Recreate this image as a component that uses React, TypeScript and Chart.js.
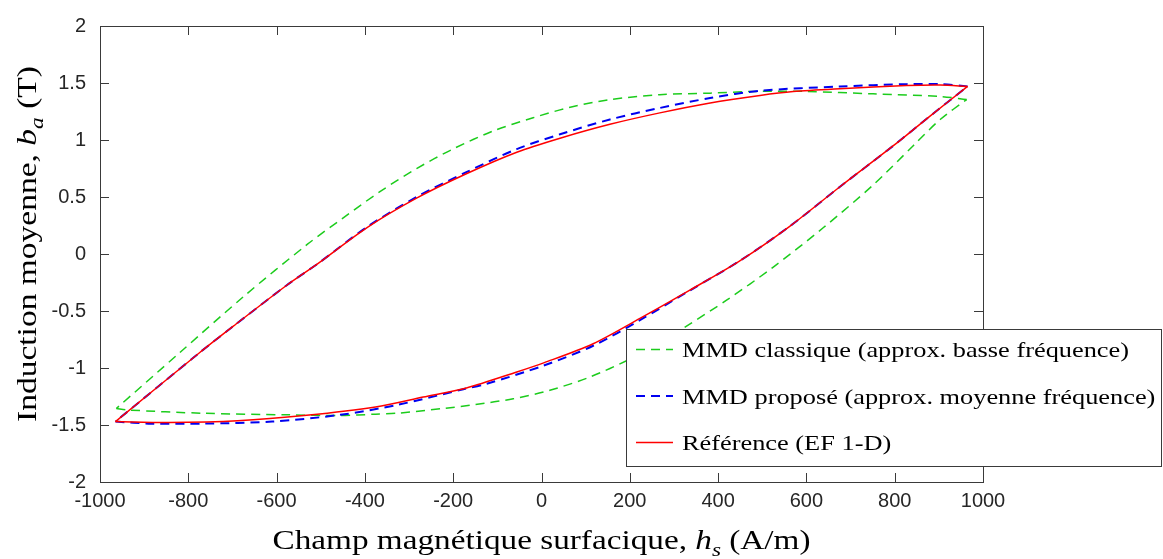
import { useEffect, useRef } from 'react';
import { Chart, registerables } from 'chart.js';

Chart.register(...registerables);

// ---- Data (h_s in A/m, b_a in T) ----
const xTicks = [-1000, -800, -600, -400, -200, 0, 200, 400, 600, 800, 1000];
const yTicks = [-2, -1.5, -1, -0.5, 0, 0.5, 1, 1.5, 2];

const seriesLabels = [
  'MMD classique (approx. basse fréquence)',
  'MMD proposé (approx. moyenne fréquence)',
  'Référence (EF 1-D)',
];

// MMD classique (green)
const classicUpperH = [963, 903, 751, 600, 480, 382, 268, 155, 65, -19, -109, -200, -283, -366, -449, -530, -675, -819, -963];
const classicUpperB = [1.355, 1.382, 1.405, 1.426, 1.426, 1.411, 1.397, 1.354, 1.287, 1.195, 1.08, 0.922, 0.749, 0.547, 0.317, 0.086, -0.374, -0.864, -1.355];
const classicLowerH = [-963, -938, -766, -571, -456, -376, -328, -220, -150, -64, 19, 109, 200, 283, 325, 420, 525, 638, 751, 842, 903, 963];
const classicLowerB = [-1.355, -1.368, -1.397, -1.411, -1.417, -1.405, -1.397, -1.354, -1.32, -1.27, -1.195, -1.08, -0.922, -0.749, -0.642, -0.403, -0.115, 0.23, 0.605, 0.95, 1.18, 1.355];

// MMD proposé (blue)
const proposedUpperH = [965, 903, 827, 676, 495, 382, 268, 155, 42, -56, -169, -283, -396, -505, -577, -698, -774, -965];
const proposedUpperB = [1.47, 1.49, 1.49, 1.469, 1.432, 1.368, 1.281, 1.18, 1.05, 0.92, 0.72, 0.5, 0.235, -0.08, -0.274, -0.633, -0.864, -1.47];
const proposedLowerH = [-965, -883, -766, -610, -456, -328, -177, -124, 5, 117, 223, 336, 450, 563, 676, 797, 880, 965];
const proposedLowerB = [-1.47, -1.488, -1.488, -1.47, -1.411, -1.325, -1.186, -1.138, -0.979, -0.805, -0.58, -0.32, -0.058, 0.245, 0.59, 0.95, 1.21, 1.47];

// Référence EF 1-D (red)
const refUpperH = [965, 903, 827, 676, 570, 495, 382, 268, 155, 42, -56, -169, -283, -396, -505, -577, -698, -774, -965];
const refUpperB = [1.47, 1.483, 1.478, 1.45, 1.425, 1.391, 1.325, 1.238, 1.138, 1.016, 0.893, 0.706, 0.49, 0.23, -0.08, -0.274, -0.633, -0.864, -1.47];
const refLowerH = [-965, -844, -688, -532, -376, -268, -170, -56, 5, 117, 223, 336, 450, 563, 676, 797, 880, 965];
const refLowerB = [-1.47, -1.478, -1.463, -1.415, -1.342, -1.255, -1.175, -1.035, -0.955, -0.787, -0.565, -0.317, -0.058, 0.245, 0.59, 0.95, 1.21, 1.47];

// ---- Styles ----
const GREEN = '#1ccc1c';
const BLUE = '#0000f0';
const RED = '#ff0000';
const AXIS = '#3a3a3a';
const TEXT = '#262626';
const SERIF = '"Liberation Serif", "Times New Roman", serif';
const SANS = '"Liberation Sans", Arial, Helvetica, sans-serif';

const pts = (hs: number[], bs: number[]) => hs.map((h, i) => ({ x: h, y: bs[i] }));

type Seg = { t: string; it?: boolean; sub?: boolean };

function segWidth(ctx: CanvasRenderingContext2D, s: Seg, size: number) {
  ctx.font = `${s.it ? 'italic ' : ''}${s.sub ? size * 0.7 : size}px ${SERIF}`;
  return ctx.measureText(s.t).width;
}

function drawSegs(ctx: CanvasRenderingContext2D, segs: Seg[], size: number, targetW: number | null, align: 'center' | 'left', sxOverride?: number) {
  let w = 0;
  segs.forEach((s) => (w += segWidth(ctx, s, size)));
  const sx = sxOverride ?? (targetW ? targetW / w : 1);
  ctx.save();
  ctx.scale(sx, 1);
  let cx = align === 'center' ? -w / 2 : 0;
  ctx.textBaseline = 'alphabetic';
  ctx.textAlign = 'left';
  segs.forEach((s) => {
    const sw = segWidth(ctx, s, size);
    ctx.fillText(s.t, cx, s.sub ? size * 0.25 : 0);
    cx += sw;
  });
  ctx.restore();
}

const decorPlugin = {
  id: 'decor',
  afterDraw(chart: any) {
    const ctx: CanvasRenderingContext2D = chart.ctx;
    const { left, right, top, bottom } = chart.chartArea;
    const xs = chart.scales.x;
    const ys = chart.scales.y;
    ctx.save();
    // frame
    ctx.strokeStyle = AXIS;
    ctx.lineWidth = 1;
    ctx.setLineDash([]);
    ctx.strokeRect(Math.round(left) + 0.5, Math.round(top) + 0.5, Math.round(right - left), Math.round(bottom - top));
    // inward ticks
    const tl = 9;
    ctx.beginPath();
    xTicks.forEach((v) => {
      const px = Math.round(xs.getPixelForValue(v)) + 0.5;
      ctx.moveTo(px, bottom);
      ctx.lineTo(px, bottom - tl);
      ctx.moveTo(px, top);
      ctx.lineTo(px, top + tl);
    });
    yTicks.forEach((v) => {
      const py = Math.round(ys.getPixelForValue(v)) + 0.5;
      ctx.moveTo(left, py);
      ctx.lineTo(left + tl, py);
      ctx.moveTo(right, py);
      ctx.lineTo(right - tl, py);
    });
    ctx.stroke();

    // axis titles
    ctx.fillStyle = '#000';
    ctx.save();
    ctx.translate((left + right) / 2, 549);
    drawSegs(ctx, [
      { t: 'Champ magnétique surfacique, ' },
      { t: 'h', it: true },
      { t: 's', it: true, sub: true },
      { t: ' (A/m)' },
    ], 27, 538, 'center');
    ctx.restore();

    ctx.save();
    ctx.translate(36, 244);
    ctx.rotate(-Math.PI / 2);
    drawSegs(ctx, [
      { t: 'Induction moyenne, ' },
      { t: 'b', it: true },
      { t: 'a', it: true, sub: true },
      { t: ' (T)' },
    ], 27, 356, 'center');
    ctx.restore();

    // legend
    const bx = 626.5, by = 329.5, bw = 535, bh = 137;
    ctx.fillStyle = '#fff';
    ctx.fillRect(bx, by, bw, bh);
    ctx.strokeStyle = AXIS;
    ctx.lineWidth = 1;
    ctx.strokeRect(bx, by, bw, bh);
    const rows = [349.5, 396, 442.5];
    const lsize = 21;
    const w0 = segWidth(ctx, { t: seriesLabels[0] }, lsize);
    const lsx = 447 / w0;
    const dsets = chart.data.datasets;
    for (let i = 0; i < 3; i++) {
      const ds = dsets[i];
      ctx.strokeStyle = ds.borderColor;
      ctx.lineWidth = ds.borderWidth;
      ctx.setLineDash(ds.borderDash || []);
      ctx.beginPath();
      ctx.moveTo(636, rows[i]);
      ctx.lineTo(673, rows[i]);
      ctx.stroke();
      ctx.setLineDash([]);
      ctx.fillStyle = '#000';
      ctx.save();
      ctx.translate(682, rows[i] + 7.5);
      drawSegs(ctx, [{ t: ds.label }], lsize, null, 'left', lsx);
      ctx.restore();
    }
    ctx.restore();
  },
};

export default function App() {
  const ref = useRef<HTMLCanvasElement | null>(null);
  useEffect(() => {
    document.body.style.margin = '0';
    const canvas = ref.current!;
    const common = { showLine: true, pointRadius: 0, pointHoverRadius: 0, fill: false, tension: 0.3 };
    const chart = new Chart(canvas, {
      type: 'scatter',
      data: {
        datasets: [
          { ...common, label: seriesLabels[0], data: pts(classicUpperH, classicUpperB), borderColor: GREEN, borderWidth: 1.5, borderDash: [9, 6], order: 3 },
          { ...common, label: seriesLabels[1], data: pts(proposedUpperH, proposedUpperB), borderColor: BLUE, borderWidth: 2, borderDash: [9, 6], order: 2 },
          { ...common, label: seriesLabels[2], data: pts(refUpperH, refUpperB), borderColor: RED, borderWidth: 1.5, order: 1 },
          { ...common, label: seriesLabels[0] + ' ', data: pts(classicLowerH, classicLowerB), borderColor: GREEN, borderWidth: 1.5, borderDash: [9, 6], order: 3 },
          { ...common, label: seriesLabels[1] + ' ', data: pts(proposedLowerH, proposedLowerB), borderColor: BLUE, borderWidth: 2, borderDash: [9, 6], order: 2 },
          { ...common, label: seriesLabels[2] + ' ', data: pts(refLowerH, refLowerB), borderColor: RED, borderWidth: 1.5, order: 1 },
        ],
      },
      options: {
        animation: false,
        responsive: false,
        devicePixelRatio: 1,
        layout: { padding: { top: 19, right: 180, bottom: 0, left: 0 } },
        plugins: { legend: { display: false }, tooltip: { enabled: false }, title: { display: false } },
        events: [],
        scales: {
          x: {
            type: 'linear',
            min: -1000,
            max: 1000,
            afterFit: (s: any) => { s.height = 77; },
            afterBuildTicks: (s: any) => { s.ticks = xTicks.map((v) => ({ value: v })); },
            grid: { display: false, drawTicks: false },
            border: { display: false },
            ticks: { padding: 7, color: TEXT, font: { family: SANS, size: 20 }, maxRotation: 0, autoSkip: false, callback: (v: any) => String(v) },
          },
          y: {
            type: 'linear',
            min: -2,
            max: 2,
            afterFit: (s: any) => { s.width = 100; },
            afterBuildTicks: (s: any) => { s.ticks = yTicks.map((v) => ({ value: v })); },
            grid: { display: false, drawTicks: false },
            border: { display: false },
            ticks: { padding: 14, color: TEXT, font: { family: SANS, size: 20 }, autoSkip: false, callback: (v: any) => String(v) },
          },
        },
      },
      plugins: [decorPlugin],
    } as any);
    return () => chart.destroy();
  }, []);
  return (
    <div style={{ position: 'absolute', left: 0, top: 0, width: 1163, height: 559 }}>
      <canvas ref={ref} width={1163} height={559} style={{ display: 'block', width: 1163, height: 559 }} />
    </div>
  );
}
